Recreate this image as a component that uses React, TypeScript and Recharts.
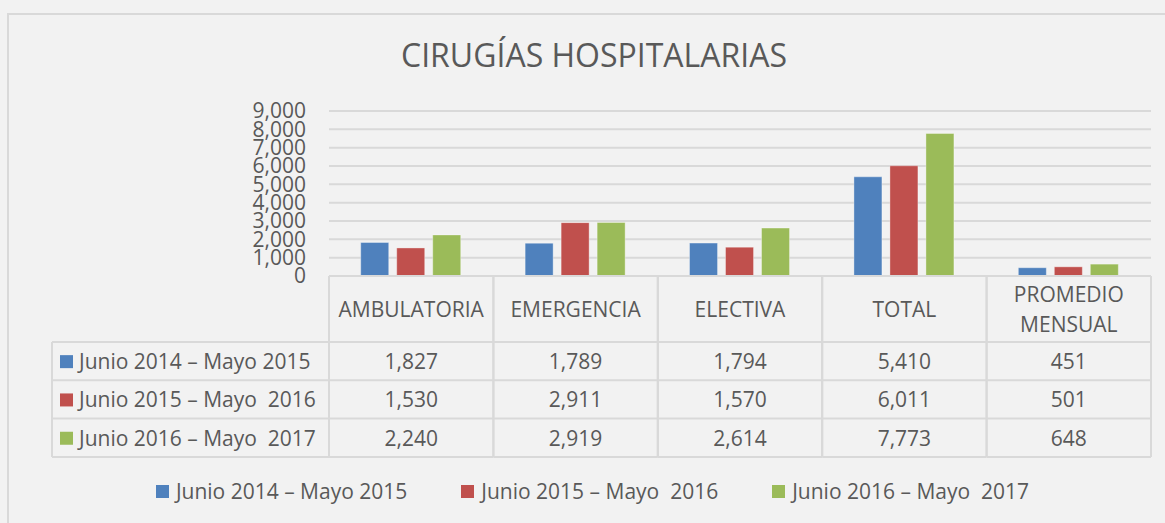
import { BarChart, Bar, XAxis, YAxis, CartesianGrid, Legend } from "recharts";

const categories = ["AMBULATORIA", "EMERGENCIA", "ELECTIVA", "TOTAL", "PROMEDIO MENSUAL"];
const periodo2015 = [1827, 1789, 1794, 5410, 451];
const periodo2016 = [1530, 2911, 1570, 6011, 501];
const periodo2017 = [2240, 2919, 2614, 7773, 648];
const seriesNames = ["Junio 2014 – Mayo 2015", "Junio 2015 – Mayo  2016", "Junio 2016 – Mayo  2017"];
const seriesColors = ["#4f81bd", "#c0504d", "#9bbb59"];
const yTicks = [0, 1000, 2000, 3000, 4000, 5000, 6000, 7000, 8000, 9000];

const seriesValues = [periodo2015, periodo2016, periodo2017];
const data = categories.map((name, i) => ({
  name,
  s0: periodo2015[i],
  s1: periodo2016[i],
  s2: periodo2017[i],
}));

const FONT = "'Open Sans', sans-serif";
const TEXT = "#595959";
const LINE = "#d9d9d9";
const FS = 21;
const fmt = (v: number) => v.toLocaleString("en-US");

const HEADER_H = 66;
const ROW_H = 38.3;
const LEFT_COL_W = 277;

function TableTick(props: any) {
  const { x, y, payload, index, width, visibleTicksCount } = props;
  const band = width && visibleTicksCount ? width / visibleTicksCount : 164.4;
  const x0 = x - band / 2;
  const x1 = x + band / 2;
  const total = HEADER_H + ROW_H * 3;
  const words = String(payload.value).split(" ");
  return (
    <g>
      {/* header cell */}
      <line x1={x0} y1={y} x2={x0} y2={y + total} stroke={LINE} strokeWidth={2} />
      <line x1={x1} y1={y} x2={x1} y2={y + total} stroke={LINE} strokeWidth={2} />
      {words.length === 1 ? (
        <text x={x} y={y + HEADER_H / 2 + 8} textAnchor="middle" fontSize={FS} fill={TEXT} fontFamily={FONT}>
          {payload.value}
        </text>
      ) : (
        words.map((w, k) => (
          <text key={w} x={x} y={y + 26 + k * 30} textAnchor="middle" fontSize={FS} fill={TEXT} fontFamily={FONT}>
            {w}
          </text>
        ))
      )}
      {seriesValues.map((vals, r) => {
        const top = y + HEADER_H + r * ROW_H;
        return (
          <g key={r}>
            <line x1={x0} y1={top} x2={x1} y2={top} stroke={LINE} strokeWidth={2} />
            <text x={x} y={top + ROW_H / 2 + 8} textAnchor="middle" fontSize={FS} fill={TEXT} fontFamily={FONT}>
              {fmt(vals[index])}
            </text>
          </g>
        );
      })}
      <line x1={x0} y1={y + total} x2={x1} y2={y + total} stroke={LINE} strokeWidth={2} />
      {index === 0 && (
        <g>
          {seriesNames.map((name, r) => {
            const top = y + HEADER_H + r * ROW_H;
            const lx = x0 - LEFT_COL_W;
            return (
              <g key={name}>
                <line x1={lx} y1={top} x2={x0} y2={top} stroke={LINE} strokeWidth={2} />
                <rect x={lx + 8} y={top + ROW_H / 2 - 6} width={13} height={13} fill={seriesColors[r]} />
                <text
                  x={lx + 27}
                  y={top + ROW_H / 2 + 8}
                  fontSize={FS}
                  fill={TEXT}
                  fontFamily={FONT}
                  style={{ whiteSpace: "pre" }}
                >
                  {name}
                </text>
              </g>
            );
          })}
          <line x1={x0 - LEFT_COL_W} y1={y + total} x2={x0} y2={y + total} stroke={LINE} strokeWidth={2} />
          <line x1={x0 - LEFT_COL_W} y1={y + HEADER_H} x2={x0 - LEFT_COL_W} y2={y + total} stroke={LINE} strokeWidth={2} />
        </g>
      )}
    </g>
  );
}

function BottomLegend(props: any) {
  const { payload } = props;
  return (
    <div style={{ display: "flex", justifyContent: "center", gap: 54, fontFamily: FONT, fontSize: FS, color: TEXT, paddingLeft: 20 }}>
      {(payload || []).map((p: any) => (
        <div key={p.value} style={{ display: "flex", alignItems: "center" }}>
          <span style={{ display: "inline-block", width: 13, height: 13, background: p.color, marginRight: 7 }} />
          <span style={{ whiteSpace: "pre" }}>{p.value}</span>
        </div>
      ))}
    </div>
  );
}

export default function App() {
  return (
    <div style={{ position: "absolute", left: 0, top: 0, width: 1165, height: 523, background: "#f2f2f2", overflow: "hidden" }}>
      <div style={{ position: "absolute", left: 7, top: 13, width: 1200, height: 600, border: "2px solid #d9d9d9", boxSizing: "border-box" }} />
      <div style={{ position: "absolute", left: 0, top: 33, width: 1188, textAlign: "center", fontFamily: FONT, fontSize: 32, color: TEXT }}>
        CIRUGÍAS HOSPITALARIAS
      </div>
      <div style={{ position: "absolute", left: 0, top: 0 }}>
        <BarChart
          width={1165}
          height={523}
          data={data}
          margin={{ top: 111, right: 14, left: 269, bottom: 66 }}
          barCategoryGap="19.3%"
          barGap={8}
        >
          <CartesianGrid vertical={false} stroke={LINE} strokeWidth={2} />
          <YAxis
            width={60}
            domain={[0, 9000]}
            ticks={yTicks}
            tickFormatter={fmt}
            axisLine={false}
            tickLine={false}
            tickSize={0}
            tickMargin={23}
            interval={0}
            tick={{ fill: TEXT, fontSize: FS, fontFamily: FONT }}
          />
          <XAxis
            dataKey="name"
            height={181}
            axisLine={{ stroke: LINE, strokeWidth: 2 }}
            tickLine={false}
            tickSize={0}
            tickMargin={0}
            interval={0}
            tick={<TableTick />}
          />
          <Legend
            layout="horizontal"
            verticalAlign="middle"
            align="center"
            wrapperStyle={{ top: 477, left: 0, width: 1165 }}
            content={<BottomLegend />}
          />
          {seriesNames.map((name, i) => (
            <Bar
              key={name}
              dataKey={`s${i}`}
              name={name}
              fill={seriesColors[i]}
              stroke="rgba(255,255,255,0.35)"
              strokeWidth={1}
              isAnimationActive={false}
            />
          ))}
        </BarChart>
      </div>
    </div>
  );
}
